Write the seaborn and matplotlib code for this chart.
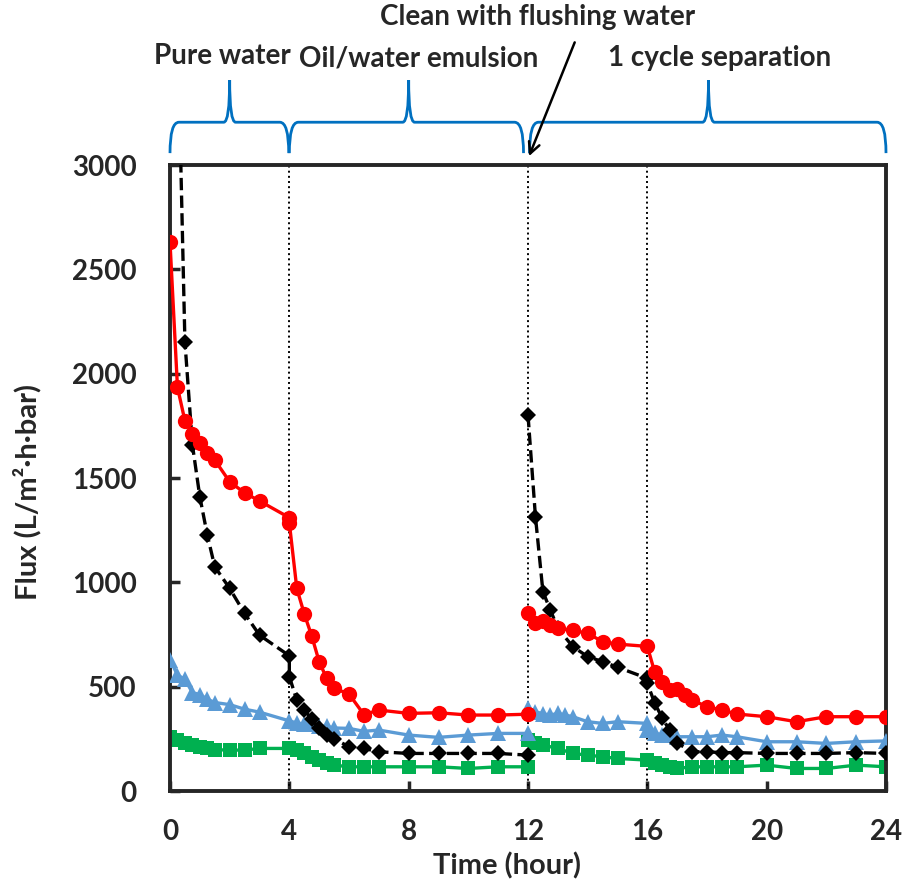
import numpy as np
import pandas as pd
import matplotlib.pyplot as plt
import seaborn as sns
from matplotlib.path import Path
from matplotlib.patches import PathPatch

# red circles (two runs: 0-12 h and 12-24 h)
red_t1 = [0, 0.25, 0.5, 0.75, 1, 1.25, 1.5, 2, 2.5, 3, 4, 4, 4.25, 4.5, 4.75, 5, 5.25, 5.5, 6, 6.5, 7, 8, 9, 10, 11, 12]
red_f1 = [2630, 1935, 1774, 1712, 1670, 1618, 1586, 1482, 1429, 1390, 1310, 1285, 971, 849, 743, 620, 540, 492, 465, 366, 388, 372, 375, 364, 364, 368]
red_t2 = [12, 12.25, 12.5, 12.75, 13, 13.5, 14, 14.5, 15, 16, 16.25, 16.5, 16.75, 17, 17.25, 17.5, 18, 18.5, 19, 20, 21, 22, 23, 24]
red_f2 = [851, 805, 815, 795, 779, 771, 755, 716, 704, 693, 568, 524, 486, 490, 460, 436, 404, 388, 369, 356, 332, 356, 356, 356]

# black diamonds (dashed)
blk_t1 = [0.25, 0.5, 0.75, 1, 1.25, 1.5, 2, 2.5, 3, 4, 4, 4.25, 4.5, 4.75, 5, 5.25, 5.5, 6, 6.5, 7, 8, 9, 10, 11, 12]
blk_f1 = [3700, 2153, 1660, 1410, 1227, 1075, 971, 851, 747, 648, 548, 436, 388, 345, 300, 270, 250, 212, 204, 188, 180, 180, 180, 180, 172]
blk_t2 = [12, 12.25, 12.5, 12.75, 13, 13.5, 14, 14.5, 15, 16, 16, 16.25, 16.5, 16.75, 17, 17.5, 18, 18.5, 19, 20, 21, 22, 23, 24]
blk_f2 = [1802, 1314, 955, 867, 780, 692, 644, 620, 593, 540, 516, 420, 350, 290, 230, 188, 188, 184, 184, 180, 180, 180, 184, 180]

# blue triangles
blu_t1 = [0, 0.25, 0.5, 0.75, 1, 1.25, 1.5, 2, 2.5, 3, 4, 4.25, 4.5, 4.75, 5, 5.25, 5.5, 6, 6.5, 7, 8, 9, 10, 11, 12]
blu_f1 = [630, 556, 535, 472, 462, 440, 424, 414, 392, 378, 336, 326, 320, 322, 312, 310, 302, 300, 286, 292, 268, 257, 268, 276, 276]
blu_t2 = [12, 12.25, 12.5, 12.75, 13, 13.25, 13.5, 14, 14.5, 15, 16, 16, 16.25, 16.5, 16.75, 17, 17.5, 18, 18.5, 19, 20, 21, 22, 23, 24]
blu_f2 = [396, 380, 370, 364, 372, 364, 356, 332, 324, 332, 324, 290, 276, 270, 268, 260, 260, 260, 268, 260, 236, 236, 228, 236, 240]

# green squares
grn_t1 = [0, 0.25, 0.5, 0.75, 1, 1.25, 1.5, 2, 2.5, 3, 4, 4.25, 4.5, 4.75, 5, 5.25, 5.5, 6, 6.5, 7, 8, 9, 10, 11, 12]
grn_f1 = [258, 244, 230, 220, 212, 204, 198, 196, 196, 204, 204, 196, 180, 164, 148, 134, 124, 116, 116, 116, 116, 116, 108, 116, 116]
grn_t2 = [12, 12.25, 12.5, 13, 13.5, 14, 14.5, 15, 16, 16.25, 16.5, 16.75, 17, 17.5, 18, 18.5, 19, 20, 21, 22, 23, 24]
grn_f2 = [244, 232, 220, 204, 180, 172, 164, 156, 148, 132, 124, 116, 108, 116, 116, 116, 116, 124, 108, 108, 124, 116]

x_ticks = [0, 4, 8, 12, 16, 20, 24]
y_ticks = [0, 500, 1000, 1500, 2000, 2500, 3000]
phase_lines = [4, 12, 16]

sns.set_style("ticks")
plt.rcParams['font.family'] = ['Lato', 'DejaVu Sans']
plt.rcParams['font.weight'] = 'bold'

W, H = 906, 888
fig = plt.figure(figsize=(W / 100, H / 100), dpi=100)
ax = fig.add_axes([170 / W, 1 - 791 / H, (886 - 170) / W, (791 - 165) / H])

for xv in phase_lines:
    ax.plot([xv, xv], [0, 3000], color='black', linestyle=':', linewidth=1.4, zorder=1)

styles = [
    (grn_t1, grn_f1, grn_t2, grn_f2, dict(color='#00B050', marker='s', markersize=10, linestyle='-')),
    (blu_t1, blu_f1, blu_t2, blu_f2, dict(color='#5B9BD5', marker='^', markersize=11, linestyle='-')),
    (blk_t1, blk_f1, blk_t2, blk_f2, dict(color='black', marker='D', markersize=8.5, linestyle='--')),
    (red_t1, red_f1, red_t2, red_f2, dict(color='#FF0000', marker='o', markersize=11, linestyle='-')),
]
for k, (t1, f1, t2, f2, st) in enumerate(styles):
    for t, f in [(t1, f1), (t2, f2)]:
        df = pd.DataFrame({'time': t, 'flux': f})
        sns.lineplot(data=df, x='time', y='flux', ax=ax, estimator=None, sort=False,
                     linewidth=2.4, markeredgewidth=0, zorder=2 + k, **st)

ax.set_xlim(0, 24)
ax.set_ylim(0, 3000)
ax.set_xticks(x_ticks)
ax.set_yticks(y_ticks)
ax.tick_params(direction='in', length=7, width=2.5, labelsize=20)
ax.tick_params(axis='x', pad=20)
ax.tick_params(axis='y', pad=24)
for lab in ax.get_xticklabels() + ax.get_yticklabels():
    lab.set_fontweight('bold')
for sp in ax.spines.values():
    sp.set_linewidth(2.8)
    sp.set_visible(True)
ax.set_xlabel('')
ax.set_ylabel('')
fig.text(507 / W, 1 - 866 / H, 'Time (hour)', ha='center', va='center', fontsize=21, fontweight='bold')
fig.text(27 / W, 1 - 492 / H, 'Flux (L/m²·h·bar)', ha='center', va='center', rotation=90,
         fontsize=21, fontweight='bold')


# curly braces above the plot
def brace(x0, x1, xm, ybot=3057, ymid=3205, ytop=3407, dx=0.3, dm=0.2):
    verts = [(x0, ybot), (x0, ymid), (x0 + dx, ymid),
             (xm - dm, ymid), (xm, ymid), (xm, ytop),
             (xm, ymid), (xm + dm, ymid),
             (x1 - dx, ymid), (x1, ymid), (x1, ybot)]
    codes = [Path.MOVETO, Path.CURVE3, Path.CURVE3,
             Path.LINETO, Path.CURVE3, Path.CURVE3,
             Path.CURVE3, Path.CURVE3,
             Path.LINETO, Path.CURVE3, Path.CURVE3]
    ax.add_patch(PathPatch(Path(verts, codes), fill=False, edgecolor='#0070C0',
                           linewidth=2, clip_on=False))


brace(0, 3.98, 2.0)
brace(4.0, 11.85, 8.0)
brace(12.05, 24, 18.05)

ax.annotate('', xy=(12.0, 3030), xytext=(13.6, 3600),
            arrowprops=dict(arrowstyle='->', color='black', lw=1.8, mutation_scale=20),
            annotation_clip=False)

fig.text(222 / W, 1 - 56 / H, 'Pure water', ha='center', va='center', fontsize=20, fontweight='bold')
fig.text(419 / W, 1 - 58 / H, 'Oil/water emulsion', ha='center', va='center', fontsize=20, fontweight='bold')
fig.text(720 / W, 1 - 58 / H, '1 cycle separation', ha='center', va='center', fontsize=20, fontweight='bold')
fig.text(538 / W, 1 - 17 / H, 'Clean with flushing water', ha='center', va='center', fontsize=20, fontweight='bold')

fig.savefig('out.png', dpi=100)
